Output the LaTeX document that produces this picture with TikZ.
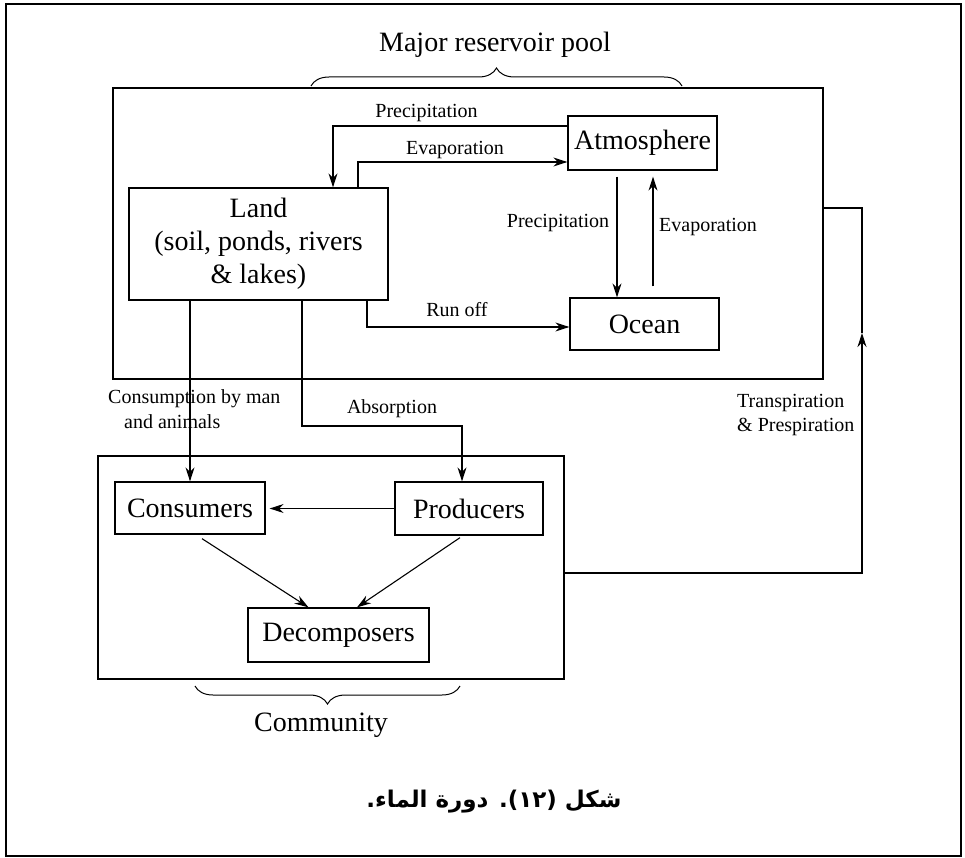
\documentclass[tikz,border=0pt]{standalone}
\usepackage{fontspec}
\setmainfont{Liberation Serif}
\newfontfamily\arabicfont[Script=Arabic]{DejaVu Sans}
\TeXXeTstate=1
\usetikzlibrary{arrows.meta,decorations.pathreplacing}
\begin{document}
\begin{tikzpicture}[x=1pt,y=-1pt,
  box/.style={draw,line width=1.3pt,inner sep=0pt,font=\fontsize{28}{33}\selectfont},
  frame/.style={draw,line width=1.3pt,inner sep=0pt},
  arr/.style={line width=1.1pt,-{Stealth[length=14pt,width=9pt]}},
  ln/.style={line width=1.1pt},
  lbl/.style={font=\fontsize{20}{24}\selectfont,inner sep=0pt},
  big/.style={font=\fontsize{28}{32}\selectfont,inner sep=0pt},
  brc/.style={line width=1pt,decorate,decoration={brace,amplitude=18pt}}]

\useasboundingbox (0,0) rectangle (965,858);
\draw[line width=2.8pt] (6,4) rectangle (961,856);

% containers
\node[frame,minimum width=710pt,minimum height=291pt] (res) at (468,233.5) {};
\node[frame,minimum width=466pt,minimum height=223pt] (comm) at (331,567.5) {};

% boxes
\node[box,minimum width=259pt,minimum height=112pt,align=center] (land) at (258.5,244) {Land\\(soil, ponds, rivers\\\& lakes)};
\node[box,minimum width=149pt,minimum height=54pt] (atm) at (642.5,143) {Atmosphere};
\node[box,minimum width=149pt,minimum height=52pt] (ocean) at (644.5,324) {Ocean};
\node[box,minimum width=150pt,minimum height=52pt] (cons) at (190,508) {Consumers};
\node[box,minimum width=148pt,minimum height=53pt] (prod) at (469,508.5) {Producers};
\node[box,minimum width=181pt,minimum height=54pt] (dec) at (338.5,635) {Decomposers};

% braces and titles
\coordinate (b1a) at (311,86);
\coordinate (b1b) at (682,86);
\draw[brc] (b1a) -- (b1b);
\node[big] (major) at (495,45) {Major reservoir pool};
\coordinate (b2a) at (460,686);
\coordinate (b2b) at (195,686);
\draw[brc] (b2a) -- (b2b);
\node[big] (commlbl) at (321,725) {Community};

% connectors
\draw[arr] ([yshift=17pt]atm.west) -| ([xshift=74.5pt]land.north);
\draw[arr] ([xshift=99.5pt]land.north) |- ([yshift=-19pt]atm.west);
\draw[arr] ([xshift=-25.5pt,yshift=-6pt]atm.south) -- ([xshift=-27.5pt]ocean.north);
\draw[arr] ([xshift=8.5pt,yshift=11pt]ocean.north) -- ([xshift=10.5pt,yshift=-6pt]atm.south);
\draw[arr] ([xshift=108.5pt]land.south) |- ([yshift=-3pt]ocean.west);
\draw[arr] (land.south -| cons.north) -- (cons.north);
\coordinate (absc) at (302,426);
\draw[arr] (land.south -| absc) -- (absc) -| ([xshift=-7pt]prod.north);
\draw[arr] (prod.west) -- ([xshift=4pt]cons.east |- prod.west);
\draw[arr] ([xshift=12pt,yshift=-4pt]cons.south) -- ([xshift=-30pt]dec.north);
\draw[arr] ([xshift=-9pt,yshift=-2pt]prod.south) -- ([xshift=18.5pt]dec.north);
\coordinate (tr) at (862,333);
\draw[arr] ([yshift=-5.5pt]comm.east) -| (tr);
\draw[ln] (tr) |- ([yshift=25.5pt]res.east);

% labels
\node[lbl] (l1) at (426.5,113) {Precipitation};
\node[lbl] (l2) at (455,150) {Evaporation};
\node[lbl] (l3) at (558,223) {Precipitation};
\node[lbl,anchor=west] (l4) at (659,227) {Evaporation};
\node[lbl] (l5) at (457,310) {Run off};
\node[lbl,anchor=west] (l6) at (108,399) {Consumption by man};
\node[lbl,anchor=west] (l7) at (124,422) {and animals};
\node[lbl] (l8) at (392,409) {Absorption};
\node[lbl,anchor=west] (l9) at (737,403) {Transpiration};
\node[lbl,anchor=west] (l10) at (737,427) {\& Prespiration};

% caption
\node[font=\arabicfont\bfseries\fontsize{23}{28}\selectfont,inner sep=0pt] (cap) at (494,802) {\beginR شكل (١٢). دورة الماء.\endR};
\end{tikzpicture}
\end{document}
